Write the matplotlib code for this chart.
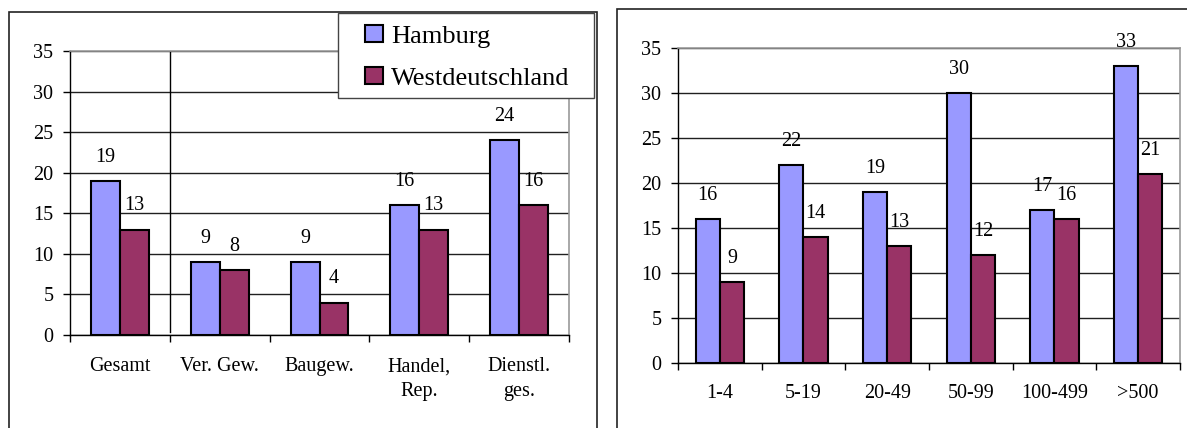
import matplotlib
matplotlib.use("Agg")
import numpy as np
import matplotlib.pyplot as plt
from matplotlib.patches import Rectangle

plt.rcParams["font.family"] = ["Liberation Serif", "DejaVu Serif"]

# DATA
series = ["Hamburg", "Westdeutschland"]
colors = ["#9999FF", "#993366"]

branchen = ["Gesamt", "Ver. Gew.", "Baugew.", "Handel,\nRep.", "Dienstl.\nges."]
branchen_hh = [19, 9, 9, 16, 24]
branchen_wd = [13, 8, 4, 13, 16]

groessen = ["1-4", "5-19", "20-49", "50-99", "100-499", ">500"]
groessen_hh = [16, 22, 19, 30, 17, 33]
groessen_wd = [9, 14, 13, 12, 16, 21]

W, H = 1187, 428
fig = plt.figure(figsize=(W / 100, H / 100), dpi=100)


def px_axes(x0, y0, x1, y1):
    # pixel box (top-left origin) -> figure fraction
    return fig.add_axes([x0 / W, 1 - y1 / H, (x1 - x0) / W, (y1 - y0) / H])


def bar_panel(ax, cats, hh, wd, fs=14.5, xpad=16):
    x = np.arange(len(cats))
    w = 0.29
    b1 = ax.bar(x - w / 2, hh, w, color=colors[0], edgecolor="black",
                linewidth=1.5, label=series[0], zorder=3)
    b2 = ax.bar(x + w / 2, wd, w, color=colors[1], edgecolor="black",
                linewidth=1.5, label=series[1], zorder=3)
    for bars, vals in [(b1, hh), (b2, wd)]:
        for b, v in zip(bars, vals):
            ax.annotate(str(v), (b.get_x() + b.get_width() / 2, v),
                        xytext=(0, 17), textcoords="offset points",
                        ha="center", va="center", fontsize=fs, zorder=4)
    ax.set_xlim(-0.5, len(cats) - 0.5)
    ax.set_ylim(0, 35)
    ax.set_yticks(range(0, 36, 5))
    ax.yaxis.grid(True, color="#202020", linewidth=1, zorder=0)
    ax.set_axisbelow(True)
    ax.set_xticks(x)
    ax.set_xticklabels(cats, fontsize=fs, linespacing=1.4)
    ax.set_xticks(np.arange(len(cats) + 1) - 0.5, minor=True)
    ax.tick_params(axis="x", which="major", length=0, pad=xpad)
    ax.tick_params(axis="x", which="minor", length=5, width=1, direction="out")
    ax.tick_params(axis="y", length=5, width=1, pad=7, labelsize=fs)
    for s in ["left", "bottom"]:
        ax.spines[s].set_color("black")
        ax.spines[s].set_linewidth(1)
    for s in ["top", "right"]:
        ax.spines[s].set_color("#999999")
        ax.spines[s].set_linewidth(1.2)
    return b1, b2


# left panel: Branchen
ax1 = px_axes(70, 51, 569, 335)
h1, h2 = bar_panel(ax1, branchen, branchen_hh, branchen_wd, xpad=16)
ax1.axvline(0.5, ymin=0.012, ymax=1, color="black", linewidth=1, zorder=2)

# right panel: Betriebsgroesse
ax2 = px_axes(678, 48, 1180, 363)
bar_panel(ax2, groessen, groessen_hh, groessen_wd, xpad=15)

# outer frames
fig.patches.append(Rectangle((9 / W, -0.1), (597 - 9) / W, 1.1 - 12 / H,
                             transform=fig.transFigure, fill=False,
                             edgecolor="#222222", linewidth=1.2))
fig.patches.append(Rectangle((617 / W, -0.1), 0.6, 1.1 - 9 / H,
                             transform=fig.transFigure, fill=False,
                             edgecolor="#222222", linewidth=1.2))

# legend box over the left panel
fig.patches.append(Rectangle((338 / W, 1 - 98 / H), (594 - 338) / W, (98 - 13) / H,
                             transform=fig.transFigure, facecolor="white",
                             edgecolor="#444444", linewidth=1, zorder=4))
fig.legend([h1, h2], series, loc="upper left",
           bbox_to_anchor=(365 / W, 1 - 25 / H), frameon=False,
           fontsize=19, handlelength=0.7, handleheight=0.6,
           handletextpad=0.3, labelspacing=0.75, borderpad=0,
           borderaxespad=0)

fig.savefig("out.png", dpi=100)
